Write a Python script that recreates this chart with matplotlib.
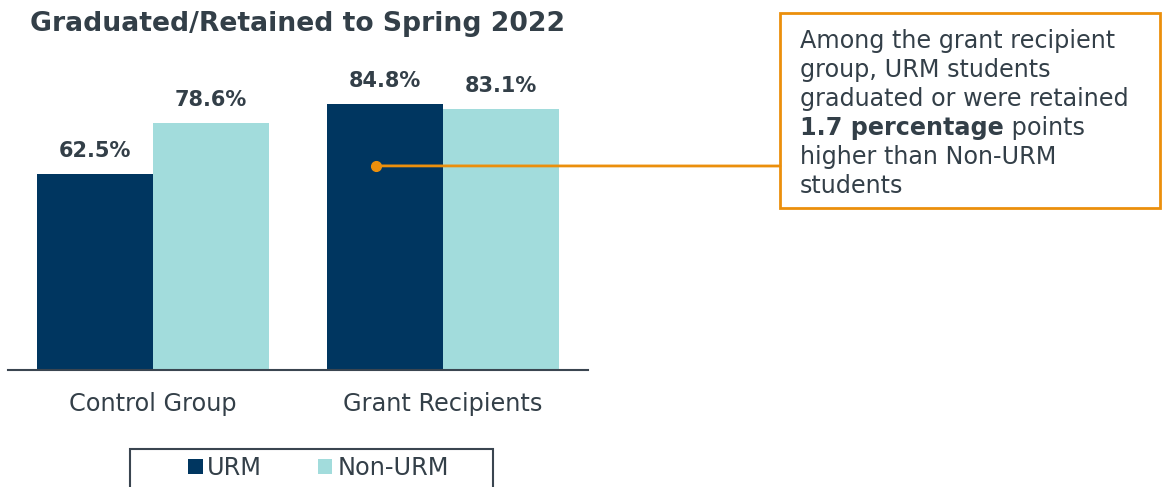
import matplotlib.pyplot as plt
from matplotlib.patches import Rectangle

groups = ["Control Group", "Grant Recipients"]
series = ["URM", "Non-URM"]
urm = [62.5, 84.8]
non_urm = [78.6, 83.1]

navy = "#003660"
teal = "#A2DCDC"
orange = "#EB8F0C"
txt = "#333F48"

fig = plt.figure(figsize=(11.64, 4.87), dpi=100)
ax = fig.add_axes([8 / 1164, 117 / 487, 580 / 1164, 314 / 487])

x = list(range(len(groups)))
w = 0.4
b1 = ax.bar([i - w / 2 for i in x], urm, w, color=navy, label=series[0])
b2 = ax.bar([i + w / 2 for i in x], non_urm, w, color=teal, label=series[1])

for bars, vals in [(b1, urm), (b2, non_urm)]:
    for r, v in zip(bars, vals):
        ax.text(r.get_x() + r.get_width() / 2, v + 7.3, f"{v:.1f}%", ha="center",
                va="center", fontsize=15, fontweight="bold", color=txt)

ax.set_xlim(-0.5, 1.5)
ax.set_ylim(0, 100)
ax.set_xticks(x)
ax.set_xticklabels(groups, fontsize=17.3, color=txt)
ax.tick_params(axis="x", length=0, pad=16)
ax.set_yticks([])
for s in ["top", "right", "left"]:
    ax.spines[s].set_visible(False)
ax.spines["bottom"].set_color("#3A4550")
ax.spines["bottom"].set_linewidth(1.5)

fig.text(30 / 1164, 1 - 24 / 487, "Graduated/Retained to Spring 2022", fontsize=19.2,
         fontweight="bold", color=txt, va="center", ha="left")

# legend with a frame cut off at the bottom
fig.add_artist(Rectangle((130 / 1164, -0.05), 363 / 1164, 0.05 + 38 / 487,
                         transform=fig.transFigure, fill=False,
                         edgecolor="#3A4550", linewidth=1.5))
fig.legend(handles=[b1, b2], loc="center left",
           bbox_to_anchor=(166 / 1164, 1 - 468 / 487), ncol=2, frameon=False,
           fontsize=17.3, handlelength=0.62, handleheight=0.62, handletextpad=0.2,
           columnspacing=2.3, labelcolor=txt)

# callout box
fig.add_artist(Rectangle((780 / 1164, 1 - 208 / 487), 380 / 1164, 195 / 487,
                         transform=fig.transFigure, fill=False,
                         edgecolor=orange, linewidth=2))
lines = ["Among the grant recipient", "group, URM students",
         "graduated or were retained", None, "higher than Non-URM", "students"]
y0 = 1 - 41 / 487
dy = 29 / 487
for k, ln in enumerate(lines):
    yy = y0 - k * dy
    if ln is None:
        t = fig.text(800 / 1164, yy, "1.7 percentage", fontsize=17.2, fontweight="bold",
                     color=txt, va="center", ha="left")
        ax.annotate(" points", xy=(1, 0.5), xycoords=t, va="center", ha="left",
                    fontsize=17.2, color=txt, annotation_clip=False)
    else:
        fig.text(800 / 1164, yy, ln, fontsize=17.2, color=txt, va="center", ha="left")

ax.plot([0.77], [65], "o", color=orange, markersize=7, clip_on=False, zorder=5)
ax.annotate("", xy=(0.77, 65), xytext=(780 / 1164, 1 - 166 / 487),
            textcoords="figure fraction",
            arrowprops=dict(arrowstyle="-", color=orange, lw=2, shrinkA=0, shrinkB=0))

fig.savefig("out.png", dpi=100)
